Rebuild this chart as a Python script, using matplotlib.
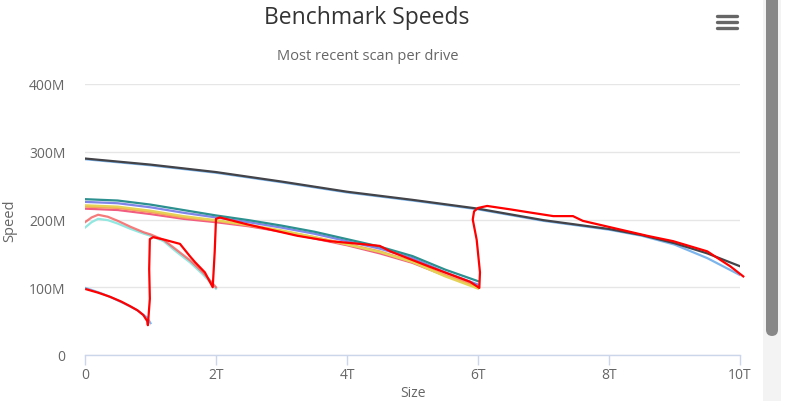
import matplotlib
matplotlib.use("Agg")
import matplotlib.pyplot as plt
from matplotlib.lines import Line2D
from matplotlib.patches import FancyBboxPatch, Rectangle

plt.rcParams["font.family"] = ["Open Sans", "DejaVu Sans"]

# --- data (size in T, speed in M) ---
x_1t = [0, 0.1, 0.25, 0.4, 0.6, 0.8, 0.95, 1.0]
y_1t = [99, 96, 91, 85, 76, 66, 55, 47]

x_2t = [0, 0.1, 0.2, 0.35, 0.5, 0.7, 0.9, 1.0, 1.2, 1.4, 1.6, 1.8, 2.0]
y_2t_red = [196, 203, 207, 204, 198, 189, 181, 178, 170, 155, 140, 122, 100]
y_2t_cyan = [188, 196, 201, 199, 194, 186, 179, 176, 168, 152, 137, 119, 98]

x_6t = [0, 0.5, 1, 1.5, 2, 2.5, 3, 3.5, 4, 4.5, 5, 5.5, 6]
y_6t_teal = [230, 228, 222, 214, 206, 199, 191, 182, 171, 160, 146, 126, 109]
y_6t_purple = [226, 224, 218, 210, 203, 196, 188, 179, 168, 157, 143, 122, 104]
y_6t_yellow = [221, 219, 213, 205, 199, 192, 184, 174, 163, 152, 137, 116, 98]
y_6t_orange = [219, 217, 211, 203, 198, 191, 183, 174, 164, 153, 138, 118, 100]
y_6t_pink = [216, 214, 208, 201, 196, 190, 182, 172, 162, 150, 136, 117, 101]

x_10t = [0, 1, 2, 3, 4, 5, 6, 7, 8, 8.5, 9, 9.5, 10]
y_10t_dark = [290, 281, 270, 256, 241, 229, 216, 199, 186, 177, 165, 150, 131]
y_10t_blue = [289, 280, 269, 255, 240, 228, 215, 198, 185, 176, 163, 143, 118]

# hand-drawn red annotation
red_x = [0.02, 0.2, 0.38, 0.55, 0.69, 0.8, 0.89, 0.95, 0.96, 0.99, 0.98, 0.99, 1.04,
         1.22, 1.45, 1.60, 1.68, 1.83, 1.95, 1.98, 2.0, 2.06, 2.47, 3.24, 3.74, 4.2,
         4.5, 4.66, 5.27, 5.88, 6.02, 6.03, 5.98, 5.92, 5.94, 6.0, 6.14, 6.49, 6.75,
         7.15, 7.45, 7.60, 8.58, 8.98, 9.5, 9.85, 10.05]
red_y = [97, 92, 86, 79, 72, 66, 59, 50, 44, 83, 127, 171, 174,
         170, 164, 146, 137, 122, 100, 152, 201, 203, 193, 176, 168, 164,
         161, 153, 130, 108, 99, 122, 170, 200, 212, 217, 220, 215, 211,
         205, 205, 198, 176, 168, 153, 131, 116]

x_ticks = [0, 2, 4, 6, 8, 10]
x_labels = ["0", "2T", "4T", "6T", "8T", "10T"]
y_ticks = [0, 100, 200, 300, 400]
y_labels = ["0", "100M", "200M", "300M", "400M"]

W, H = 788, 402
fig = plt.figure(figsize=(W / 100, H / 100), dpi=100)
ax = fig.add_axes([85 / W, (H - 356) / H, (740 - 85) / W, (356 - 85) / H])

lw = 1.6
ax.plot(x_1t, y_1t, color="#7cb5ec", lw=lw)
ax.plot(x_10t, y_10t_blue, color="#7cb5ec", lw=lw)
ax.plot(x_10t, y_10t_dark, color="#434348", lw=lw)
ax.plot(x_6t, y_6t_pink, color="#f15c80", lw=lw)
ax.plot(x_6t, y_6t_orange, color="#f7a35c", lw=lw)
ax.plot(x_6t, y_6t_yellow, color="#e4d354", lw=lw)
ax.plot(x_6t, y_6t_purple, color="#8085e9", lw=lw)
ax.plot(x_6t, y_6t_teal, color="#2b908f", lw=lw)
ax.plot(x_2t, y_2t_cyan, color="#91e8e1", lw=lw)
ax.plot(x_2t, y_2t_red, color="#f45b5b", lw=lw, alpha=0.8)
ax.plot(red_x, red_y, color="#ff0000", lw=1.6, clip_on=False, zorder=5)

ax.set_xlim(0, 10)
ax.set_ylim(0, 400)
ax.set_xticks(x_ticks)
ax.set_xticklabels(x_labels)
ax.set_yticks(y_ticks)
ax.set_yticklabels(y_labels)

for s in ["top", "right", "left"]:
    ax.spines[s].set_visible(False)
ax.spines["bottom"].set_color("#ccd6eb")
ax.spines["bottom"].set_linewidth(1)
ax.grid(axis="y", color="#e6e6e6", lw=1)
ax.set_axisbelow(True)
ax.tick_params(axis="x", colors="#ccd6eb", length=7, width=1, labelcolor="#666666",
               labelsize=10, pad=2)
ax.tick_params(axis="y", length=0, labelcolor="#666666", labelsize=10, pad=14)

fig.text(367 / W, 1 - 18 / H, "Benchmark Speeds", ha="center", va="center",
         fontsize=16.5, color="#333333")
fig.text(368 / W, 1 - 56 / H, "Most recent scan per drive", ha="center", va="center",
         fontsize=10.5, color="#666666")
fig.text(10 / W, 1 - 221 / H, "Speed", ha="center", va="center", rotation=90,
         fontsize=10.5, color="#666666")
fig.text(413 / W, 1 / H, "Size", ha="center", va="bottom",
         fontsize=10, color="#666666")

# menu icon
for yy in [16.7, 23, 29.3]:
    fig.add_artist(Line2D([717 / W, 737 / W], [1 - yy / H, 1 - yy / H],
                          color="#666666", lw=2.4, solid_capstyle="round"))

# scrollbar
fig.add_artist(Rectangle((763 / W, 0), 18 / W, 1, transform=fig.transFigure,
                         facecolor="#f3f3f3", edgecolor="none"))
fig.add_artist(FancyBboxPatch((766 / W, (H - 337) / H), 12 / W, 400 / H,
                              boxstyle="round,pad=0,rounding_size=0.008",
                              transform=fig.transFigure, facecolor="#888888",
                              edgecolor="none", mutation_aspect=W / H))

fig.savefig("out.png", dpi=100)
